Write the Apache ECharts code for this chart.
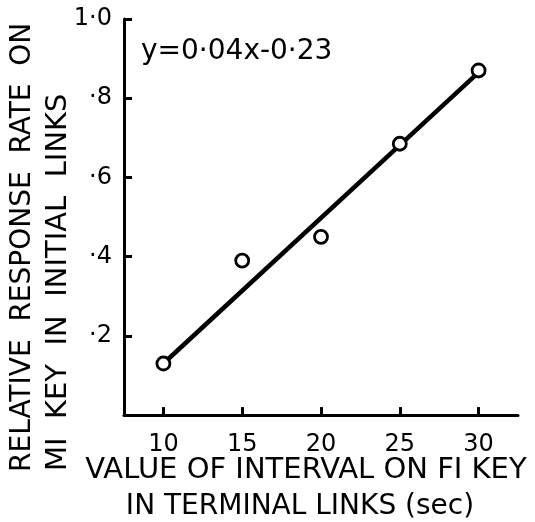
<!DOCTYPE html>
<html>
<head>
<meta charset="utf-8">
<script src="https://cdn.jsdelivr.net/npm/echarts@6/dist/echarts.min.js"></script>
<style>
html,body{margin:0;padding:0;background:#fff;}
#chart{width:535px;height:522px;}
</style>
</head>
<body>
<div id="chart"></div>
<script>
// Data
var intervalSec = [10, 15, 20, 25, 30];
var relRate = [0.13, 0.39, 0.45, 0.685, 0.87];
var fitX = [10, 30];
var fitY = [0.13, 0.865];
var xTicks = [10, 15, 20, 25, 30];
var yTicks = [0.2, 0.4, 0.6, 0.8, 1.0];
var yTickLabels = ['·2', '·4', '·6', '·8', '1·0'];
var equationText = 'y=0·04x-0·23';
var yTitle1 = 'RELATIVE  RESPONSE  RATE  ON';
var yTitle2 = 'MI  KEY  IN  INITIAL  LINKS';
var xTitle1 = 'VALUE OF INTERVAL ON FI KEY';
var xTitle2 = 'IN TERMINAL LINKS (sec)';

var X_MIN = 7.5, X_MAX = 32.5, Y_MIN = 0, Y_MAX = 1;
var X_TICK_LEN = 0.02, Y_TICK_LEN = 0.5;
var FONT = 'DejaVu Sans';
var chart = echarts.init(document.getElementById('chart'));

var pts = intervalSec.map(function (x, i) { return [x, relRate[i]]; });
var fit = fitX.map(function (x, i) { return [x, fitY[i]]; });
var tickLines = xTicks.map(function (v) {
  return [{coord: [v, Y_MIN]}, {coord: [v, Y_MIN + X_TICK_LEN]}];
}).concat(yTicks.map(function (v) {
  return [{coord: [X_MIN, v]}, {coord: [X_MIN + Y_TICK_LEN, v]}];
}));

chart.setOption({
  animation: false,
  grid: {left: 124, right: 17, top: 19, bottom: 107},
  xAxis: {
    type: 'value', min: X_MIN, max: X_MAX,
    axisLine: {show: true, lineStyle: {color: '#000', width: 3}},
    axisTick: {show: false},
    axisLabel: {show: true, customValues: xTicks, margin: 18, color: '#000', fontFamily: FONT, fontSize: 24},
    splitLine: {show: false}
  },
  yAxis: {
    type: 'value', min: Y_MIN, max: Y_MAX, interval: 0.2,
    axisLine: {show: true, lineStyle: {color: '#000', width: 3}},
    axisTick: {show: true, inside: true, length: 8, lineStyle: {color: '#000', width: 3}},
    axisLabel: {
      show: true, margin: 12, color: '#000', fontFamily: FONT, fontSize: 24,
      padding: [5, 0, 0, 0],
      formatter: function (v) {
        for (var i = 0; i < yTicks.length; i++) {
          if (Math.abs(yTicks[i] - v) < 1e-6) return yTickLabels[i];
        }
        return '';
      }
    },
    splitLine: {show: false}
  },
  series: [
    {
      type: 'line', data: fit, symbol: 'none', z: 2, clip: false,
      lineStyle: {color: '#000', width: 4.5},
      markLine: {
        silent: true, symbol: ['none', 'none'], animation: false,
        label: {show: false},
        lineStyle: {color: '#000', width: 3, type: 'solid', opacity: 1},
        emphasis: {disabled: true},
        data: tickLines
      }
    },
    {
      type: 'scatter', data: pts, symbol: 'circle', symbolSize: 13, z: 3,
      itemStyle: {color: '#fff', borderColor: '#000', borderWidth: 2.8, opacity: 1}
    }
  ]
});

chart.setOption({
  graphic: [
    {type: 'text', x: 141, y: 52, style: {text: equationText, fill: '#000', font: '28px "' + FONT + '"', align: 'left', verticalAlign: 'middle'}},
    {type: 'text', x: 23, y: 472, rotation: Math.PI / 2, style: {text: yTitle1, fill: '#000', font: '28px "' + FONT + '"', align: 'left', verticalAlign: 'middle'}},
    {type: 'text', x: 58, y: 471, rotation: Math.PI / 2, style: {text: yTitle2, fill: '#000', font: '29px "' + FONT + '"', align: 'left', verticalAlign: 'middle'}},
    {type: 'text', x: 306, y: 470, style: {text: xTitle1, fill: '#000', font: '29px "' + FONT + '"', align: 'center', verticalAlign: 'middle'}},
    {type: 'text', x: 300, y: 507, style: {text: xTitle2, fill: '#000', font: '28px "' + FONT + '"', align: 'center', verticalAlign: 'middle'}}
  ]
});
</script>
</body>
</html>
